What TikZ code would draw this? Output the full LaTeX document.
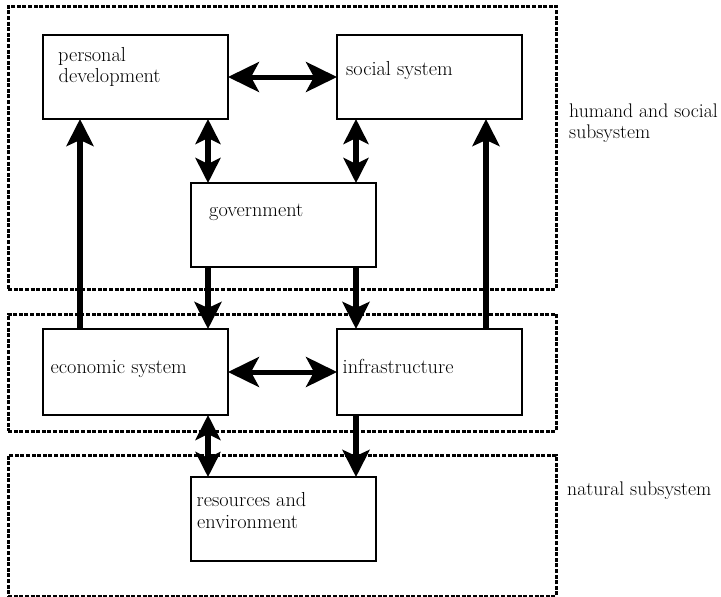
\documentclass[tikz,border=0pt]{standalone}
\usepackage{fontspec}
\usetikzlibrary{arrows.meta}
\begin{document}
\begin{tikzpicture}[x=1pt,y=-1pt,
  box/.style={draw, line width=1.4pt, inner sep=0pt, outer sep=0pt, minimum width=185pt, anchor=north west},
  zone/.style={draw, line width=2.5pt, dash pattern=on 4pt off 1.6pt, inner sep=0pt, anchor=north west},
  txt/.style={anchor=base west, inner sep=0pt, font=\fontsize{20.3}{22}\selectfont},
  sidetxt/.style={txt, font=\fontsize{19.7}{22}\selectfont},
  shead/.tip={Stealth[length=27pt,width=27pt,inset=6pt]},
  vhead/.tip={Stealth[length=25pt,width=25pt,inset=6pt]},
  hhead/.tip={Stealth[length=31pt,width=30pt,inset=8pt]},
  link/.style={line width=6pt, -shead},
  vlink/.style={line width=6pt, vhead-vhead},
  hlink/.style={line width=5pt, hhead-hhead},
]
\useasboundingbox (0,0) rectangle (721,597);

% x positions of the vertical connectors
\coordinate (xa) at (80,0);
\coordinate (xb) at (208,0);
\coordinate (xc) at (356,0);
\coordinate (xd) at (486,0);

% subsystem zones
\node[zone, minimum width=548pt, minimum height=283pt] (hz) at (7,5) {};
\node[zone, minimum width=548pt, minimum height=117pt] (mz) at (7,313) {};
\node[zone, minimum width=548pt, minimum height=141pt] (nz) at (7,454) {};

% boxes
\node[box, minimum height=84pt] (pd) at (43,35) {};
\node[box, minimum height=84pt] (ss) at (337,35) {};
\node[box, minimum height=84pt] (gov) at (191,183) {};
\node[box, minimum height=86pt] (eco) at (43,329) {};
\node[box, minimum height=86pt] (inf) at (337,329) {};
\node[box, minimum height=84pt] (res) at (191,477) {};

% texts
\node[txt] (pdt1) at (58,61) {personal};
\node[txt] (pdt2) at (58.5,82) {development};
\node[txt] (sst) at (346,75) {social system};
\node[txt] (govt) at (209,216.5) {government};
\node[txt] (ecot) at (50.5,373) {economic system};
\node[txt] (inft) at (342.5,373) {infrastructure};
\node[txt] (rest1) at (196.5,506) {resources and};
\node[txt] (rest2) at (197,528) {environment};
\node[sidetxt] (hzt1) at (569,117) {humand and social};
\node[sidetxt] (hzt2) at (569,138) {subsystem};
\node[sidetxt] (nzt) at (567,495) {natural subsystem};

% connectors
\draw[hlink] (pd.east) -- (ss.west);
\draw[hlink] (eco.east) -- (inf.west);
\draw[vlink] (pd.south -| xb) -- (gov.north -| xb);
\draw[vlink] (ss.south -| xc) -- (gov.north -| xc);
\draw[link] (gov.south -| xb) -- (eco.north -| xb);
\draw[link] (gov.south -| xc) -- (inf.north -| xc);
\draw[link] (eco.north -| xa) -- (pd.south -| xa);
\draw[link] (inf.north -| xd) -- (ss.south -| xd);
\draw[vlink] (eco.south -| xb) -- (res.north -| xb);
\draw[link] (inf.south -| xc) -- (res.north -| xc);
\end{tikzpicture}
\end{document}
